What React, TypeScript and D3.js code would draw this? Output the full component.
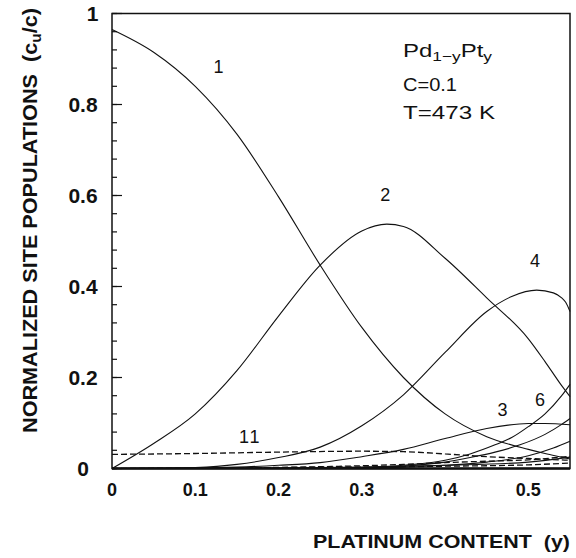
import React from "react";
import * as d3 from "d3";

const W = 576;
const H = 558;

// Axis ticks
const xTickValues = [0, 0.1, 0.2, 0.3, 0.4, 0.5];
const xTickLabels = ["0", "0.1", "0.2", "0.3", "0.4", "0.5"];
const yTickValues = [0, 0.2, 0.4, 0.6, 0.8, 1];
const yTickLabels = ["0", "0.2", "0.4", "0.6", "0.8", "1"];

// Normalized site populations c_u/c versus platinum content y
const site1: [number, number][] = [
  [0, 0.965], [0.05, 0.915], [0.1, 0.84], [0.15, 0.735], [0.2, 0.597], [0.25, 0.447],
  [0.3, 0.31], [0.35, 0.2], [0.4, 0.12], [0.45, 0.07], [0.5, 0.042], [0.52, 0.033],
  [0.54, 0.025], [0.55, 0.021],
];
const site2: [number, number][] = [
  [0, 0], [0.05, 0.055], [0.1, 0.12], [0.15, 0.215], [0.2, 0.335], [0.25, 0.447],
  [0.3, 0.522], [0.33, 0.537], [0.35, 0.532], [0.4, 0.462], [0.45, 0.375], [0.5, 0.285],
  [0.52, 0.235], [0.54, 0.182], [0.55, 0.158],
];
const site3: [number, number][] = [
  [0, 0], [0.1, 0.001], [0.15, 0.003], [0.2, 0.007], [0.25, 0.013], [0.3, 0.026],
  [0.35, 0.042], [0.4, 0.066], [0.45, 0.088], [0.5, 0.099], [0.52, 0.099], [0.55, 0.096],
];
const site4: [number, number][] = [
  [0, 0], [0.05, 0.0002], [0.1, 0.002], [0.15, 0.009], [0.2, 0.024], [0.25, 0.047],
  [0.3, 0.094], [0.35, 0.162], [0.4, 0.255], [0.45, 0.345], [0.48, 0.378], [0.51, 0.392],
  [0.53, 0.386], [0.54, 0.375], [0.545, 0.365], [0.55, 0.345],
];
const site5: [number, number][] = [
  [0, 0], [0.25, 0.0005], [0.3, 0.001], [0.35, 0.005], [0.4, 0.014], [0.43, 0.024],
  [0.46, 0.036], [0.49, 0.052], [0.52, 0.075], [0.54, 0.097], [0.55, 0.11],
];
const site6: [number, number][] = [
  [0, 0], [0.25, 0.0005], [0.3, 0.002], [0.35, 0.007], [0.4, 0.018], [0.43, 0.032],
  [0.46, 0.052], [0.48, 0.068], [0.5, 0.092], [0.52, 0.12], [0.54, 0.16], [0.55, 0.185],
];
const site7: [number, number][] = [
  [0, 0], [0.3, 0.001], [0.35, 0.003], [0.4, 0.007], [0.45, 0.014], [0.5, 0.028],
  [0.53, 0.045], [0.55, 0.06],
];
const site8: [number, number][] = [
  [0, 0], [0.2, 0.001], [0.3, 0.003], [0.4, 0.007], [0.5, 0.014], [0.55, 0.025],
];
const site9: [number, number][] = [
  [0.15, 0.001], [0.25, 0.004], [0.3, 0.006], [0.35, 0.009], [0.4, 0.013],
  [0.45, 0.016], [0.5, 0.019], [0.55, 0.027],
];
const site10: [number, number][] = [
  [0, 0], [0.2, 0.002], [0.3, 0.003], [0.4, 0.005], [0.5, 0.008], [0.55, 0.012],
];
const site11: [number, number][] = [
  [0, 0.031], [0.1, 0.033], [0.2, 0.036], [0.3, 0.038], [0.35, 0.037], [0.4, 0.032],
  [0.45, 0.026], [0.5, 0.022], [0.55, 0.018],
];

const solidSeries = [site1, site2, site3, site4, site5, site6, site7, site8];
const dashedSeries = [site9, site10, site11];

// Curve numbers and where they sit, in data units (y content, population at baseline)
const curveNames = ["1", "2", "4", "3", "6", "11"];
const curveNameX = [0.128, 0.328, 0.508, 0.469, 0.514, 0.166];
const curveNameY = [0.869, 0.589, 0.442, 0.116, 0.138, 0.055];

const FONT = "'Liberation Sans', Arial, Helvetica, sans-serif";

export default function App() {
  const x = d3.scaleLinear().domain([0, 0.55]).range([112, 570]);
  const y = d3.scaleLinear().domain([0, 1]).range([468.5, 13.5]);
  const line = d3
    .line<[number, number]>()
    .x((d) => x(d[0]))
    .y((d) => y(d[1]))
    .curve(d3.curveMonotoneX);

  const minorTicks = d3.range(0, 1.0001, 0.04);

  return (
    <svg
      width={W}
      height={H}
      style={{ position: "absolute", left: 0, top: 0, background: "#fff" }}
      fontFamily={FONT}
    >
      <rect width={W} height={H} fill="#fff" />
      <g fill="none" stroke="#111" strokeWidth={1.1}>
        {solidSeries.map((s, i) => (
          <path key={"s" + i} d={line(s) || ""} />
        ))}
        {dashedSeries.map((s, i) => (
          <path key={"d" + i} d={line(s) || ""} strokeDasharray="6 3" strokeWidth={1.3} />
        ))}
      </g>

      {/* frame */}
      <rect
        x={x(0)}
        y={y(1)}
        width={x(0.55) - x(0)}
        height={y(0) - y(1)}
        fill="none"
        stroke="#111"
        strokeWidth={1.5}
      />
      <line x1={x(0)} x2={x(0.55)} y1={y(0)} y2={y(0)} stroke="#111" strokeWidth={2.5} />

      {/* left axis ticks */}
      <g stroke="#111" strokeWidth={1.2}>
        {minorTicks.map((t) => (
          <line key={"m" + t} x1={x(0)} x2={x(0) + 5} y1={y(t)} y2={y(t)} />
        ))}
        {yTickValues.map((t) => (
          <line key={"M" + t} x1={x(0)} x2={x(0) + 10} y1={y(t)} y2={y(t)} />
        ))}
      </g>

      {/* tick labels */}
      <g fontWeight="bold" fontSize={21} fill="#111" textAnchor="middle">
        {yTickValues.map((t, i) => (
          <text key={"yl" + t} x={yTickLabels[i] === "1" ? 92.5 : 83} y={y(t) + 7.5}>
            {yTickLabels[i]}
          </text>
        ))}
      </g>
      <g fontWeight="bold" fontSize={18} fill="#111" textAnchor="middle">
        {xTickValues.map((t, i) => (
          <text key={"xl" + t} x={x(t)} y={496}>
            {xTickLabels[i]}
          </text>
        ))}
      </g>

      {/* axis titles */}
      <text
        x={313}
        y={547.5}
        fontWeight="bold"
        fontSize={18}
        fill="#111"
        textLength={257}
        lengthAdjust="spacingAndGlyphs"
      >
        PLATINUM CONTENT{"\u00a0\u00a0"}(y)
      </text>
      <text
        transform="translate(36.5,433) rotate(-90)"
        fontWeight="bold"
        fontSize={21}
        fill="#111"
        textLength={425}
        lengthAdjust="spacingAndGlyphs"
      >
        NORMALIZED SITE POPULATIONS{"\u00a0\u00a0"}(c
        <tspan fontSize={15} dy={4}>u</tspan>
        <tspan dy={-4}>/c)</tspan>
      </text>

      {/* curve numbers */}
      <g fontSize={18} fill="#111" textAnchor="middle">
        {curveNames.map((n, i) => (
          <text key={"c" + n} x={x(curveNameX[i])} y={y(curveNameY[i])} letterSpacing={n.length > 1 ? 2 : 0}>
            {n}
          </text>
        ))}
      </g>

      {/* conditions */}
      <g fontSize={18} fill="#111">
        <text x={403} y={56.7} textLength={89} lengthAdjust="spacingAndGlyphs">
          Pd
          <tspan fontSize={13} dy={4}>1−y</tspan>
          <tspan dy={-4}>Pt</tspan>
          <tspan fontSize={13} dy={4}>y</tspan>
        </text>
        <text x={403} y={90.7} textLength={54} lengthAdjust="spacingAndGlyphs">
          C=0.1
        </text>
        <text x={403} y={119.3} textLength={92} lengthAdjust="spacingAndGlyphs">
          T=473 K
        </text>
      </g>
    </svg>
  );
}
